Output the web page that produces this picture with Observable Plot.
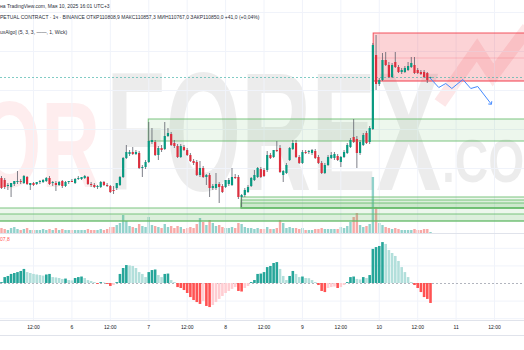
<!DOCTYPE html>
<html><head><meta charset="utf-8">
<script src="https://cdn.jsdelivr.net/npm/d3@7"></script>
<script src="https://cdn.jsdelivr.net/npm/@observablehq/plot@0.6"></script>
<style>
html,body{margin:0;padding:0;background:#fff;}
#chart{position:relative;width:524px;height:350px;overflow:hidden;background:#fff;font-family:"Liberation Sans",Arial,sans-serif;}
#chart > *{position:absolute;left:0;}
.hdr{font-size:5px;line-height:6px;color:#2a2e39;white-space:nowrap;left:1px;}
</style></head><body><div id="chart"></div>
<script>
// ---------- data ----------
const firstCandle = "2025-05-05T02:00:00Z"; // hourly candles
const open = [105800,105700,105400,105350,105500,105600,105650,105550,105850,105450,105550,105500,105600,105600,105650,105800,105550,105550,105450,105650,105400,105600,105650,105550,105750,105750,105800,105850,105500,105450,105350,105350,105600,105450,105400,105200,105300,105450,105850,106800,107000,107100,107000,107050,106300,106350,106600,107600,107600,106950,107300,107250,107900,108000,107550,107400,106850,107350,107200,106950,106650,106600,105950,106300,105850,105950,105300,105300,105500,105400,105350,105500,105450,105850,105850,104850,104950,105100,105400,105700,105850,106250,106200,106200,106950,106850,107200,107300,105950,106050,106700,107250,107550,106850,106550,107100,107100,107050,107150,106850,106550,106050,106450,106800,106800,106900,106600,106850,107050,107350,107850,107750,107050,107450,108050,107600,108250,111950,110500,110700,111700,111450,110850,111600,111350,111100,111100,111200,111350,111450,111200,111100,111100,111050,110808.9];
const high = [105900,105800,105550,105500,105600,106150,105750,105950,105900,105550,105600,105600,105700,105750,105850,105900,105650,105650,105650,105700,105650,105650,105750,105800,105900,105850,105950,105900,105600,105550,105450,105650,105650,105550,105450,105400,105500,105900,106850,107450,107200,107350,107200,107150,106450,106700,108600,108300,107700,107400,107450,108600,108300,108100,107700,107500,107500,107450,107300,107050,106750,106700,106650,106400,106000,106050,105500,106050,105600,105500,105550,105800,106300,106000,105950,105000,105300,105450,105850,106200,106350,106350,106300,107150,107050,107200,107650,107450,106200,106550,107350,107700,107700,106950,107200,107200,107200,107250,107250,106950,106650,106550,106950,107100,107100,107000,106900,107200,107550,107800,108750,107900,107700,108050,108150,108400,112550,112950,110800,112050,112100,111600,111550,112100,111450,111300,111400,111600,111850,111850,111300,111200,111200,111100,110857.3];
const low = [105250,105250,105200,104850,105400,105500,105500,105500,105450,105200,105400,105450,105500,105550,105600,105450,105400,105150,105400,105300,105350,105500,105600,105500,105700,105700,105750,105450,105350,105300,105250,105300,105400,105350,105050,105000,105200,105400,105800,106750,106900,106950,106950,106250,105850,106250,106550,107500,106900,106700,107100,107200,107850,107400,107300,106800,106800,107150,106900,106600,106450,105900,105850,105800,105450,104850,105200,105200,104550,105050,105300,105400,105400,105750,104750,104350,104850,105050,105350,105650,105800,105800,105850,106100,106750,106800,107100,106050,105600,106000,106650,107200,106800,106500,106500,107000,107000,106950,106750,106500,106000,106000,106400,106750,106700,106650,106350,106800,107000,107300,107550,106300,106950,107400,107500,107500,108200,110200,110400,110650,111400,110800,110800,111300,111050,111000,111050,111150,111300,111000,111000,110950,110800,110550,110767];
const close = [105300,105350,105450,105550,105650,105650,105600,105900,105500,105550,105450,105600,105650,105700,105800,105500,105600,105450,105600,105400,105600,105650,105600,105750,105800,105850,105900,105500,105450,105350,105400,105600,105450,105400,105100,105150,105550,105850,106800,107100,107100,107000,107100,106300,106350,106600,107650,107700,106950,107300,107200,107900,108050,107450,107400,106850,107400,107200,106950,106650,106550,105950,106300,105850,105950,105300,105400,105500,105350,105100,105700,105700,105850,105800,104850,104950,105200,105350,105800,105950,106300,105850,105900,106950,106800,107200,107150,106100,106150,106450,107300,107550,106850,106550,107100,107050,107150,107200,106800,106550,106050,106450,106850,106950,107000,106700,106850,107100,107450,107700,107600,107050,107600,107950,107550,108300,112450,110500,110700,111700,111450,110850,111450,111350,111100,111200,111300,111400,111550,111050,111050,111000,110850,110700,110850];
const volume = [100,80,60,100,120,80,60,80,100,60,60,60,60,80,60,80,60,100,60,80,60,60,60,60,60,60,60,80,60,60,60,80,60,80,120,
  120,160,200,360,240,140,120,100,180,140,120,320,160,140,120,100,180,120,140,100,140,120,80,100,120,100,180,300,220,160,260,200,140,160,
  120,100,100,120,100,200,180,120,100,100,80,100,80,80,120,80,80,100,260,200,100,120,100,100,80,100,60,60,60,80,80,100,80,80,80,
  80,80,120,100,140,220,320,400,160,120,140,180,1120,520,200,160,120,100,80,100,80,60,60,60,60,80,60,60,80,80,20];
const osc = [5,32,38,49,54,59,65,76,59,54,49,46,43,40,46,49,32,30,27,22,24,16,14,27,32,35,27,16,11,5,
  -5,5,3,-5,-16,-11,5,49,81,97,95,92,81,59,49,32,59,70,73,43,32,49,51,16,5,
  -22,-27,-38,-54,-76,-92,-103,-113,-97,-124,-130,-119,-103,-86,-70,-54,-43,-32,-22,-43,-46,-27,-16,
  5,16,49,51,59,86,92,108,113,76,38,16,38,65,49,32,35,27,26,16,5,
  -11,-43,-49,-27,-22,-19,-27,-22,-11,5,32,35,22,19,32,27,43,184,194,200,221,211,178,162,146,119,86,59,32,5,
  -11,-27,-49,-76,-86,-107.8];

const tickTimes = ["2025-05-05T12:00Z","2025-05-06T00:00Z","2025-05-06T12:00Z","2025-05-07T00:00Z","2025-05-07T12:00Z","2025-05-08T00:00Z","2025-05-08T12:00Z","2025-05-09T00:00Z","2025-05-09T12:00Z","2025-05-10T00:00Z","2025-05-10T12:00Z","2025-05-11T00:00Z","2025-05-11T12:00Z"].map(d => new Date(d));
const tickLabels = ["12:00","6","12:00","7","12:00","8","12:00","9","12:00","10","12:00","11","12:00"];
const priceGrid = [114100,112150,110200,108250,106300];
const oscGrid = [-190,-95,95,190];

const zoneStart  = ["2025-05-09T22:15Z","2025-05-09T22:15Z","2025-05-07T00:00Z","2025-05-05T00:00Z","2025-05-05T00:00Z","2025-05-08T05:00Z","2025-05-08T05:00Z","2025-05-08T05:00Z"];
const zoneTop    = [113050,111800,108750,104300,104000,104850,104700,104550];
const zoneBottom = [110650,110650,107650,103650,103650,104300,104300,104300];
const zoneKind   = ["supply","supplyLine","demand","demand","demand","demand","demand","demand"];
const zoneEnd = "2025-05-12T00:00Z";

const projTime  = ["2025-05-10T16:00Z","2025-05-10T18:35Z","2025-05-10T20:45Z","2025-05-10T22:40Z","2025-05-11T02:05Z","2025-05-11T04:35Z","2025-05-11T06:45Z","2025-05-11T10:50Z"];
const projPrice = [110800,110350,110550,110300,110750,110300,110400,109550];

const headerLines = [
  "на TradingView.com, Мая 10, 2025 16:01 UTC+3",
  "PETUAL CONTRACT · 1ч · BINANCE  ОТКР110808,9  МАКС110857,3  МИН110767,0  ЗАКР110850,0  +41,0 (+0,04%)",
  "uxAlgo] (5, 3, 3, ——, 1, Wick)"
];
const oscLabel = "07,8";

// ---------- tables ----------
const t0 = Date.parse(firstCandle);
const candles = close.map((c, i) => ({t: new Date(t0 + i * 3600e3), open: open[i], high: high[i], low: low[i], close: c, volume: volume[i], osc: osc[i]}));
const zones = zoneStart.map((s, i) => ({start: new Date(s), end: new Date(zoneEnd), top: zoneTop[i], bottom: zoneBottom[i], kind: zoneKind[i]}));
const proj = projTime.map((t, i) => ({t: new Date(t), p: projPrice[i]}));
const lastClose = close[close.length - 1];

const UP = "#089981", DOWN = "#dc2f3e";
const xOpt = {type: "utc", domain: [new Date("2025-05-05T01:41:36Z"), new Date("2025-05-11T21:21:36Z")], axis: null};
const common = {width: 524, marginLeft: 0, marginRight: 0, style: {background: "transparent", overflow: "visible", fontFamily: "Liberation Sans, Arial, sans-serif"}};
const chart = document.getElementById("chart");
function place(el, top) { el.style.position = "absolute"; el.style.left = "0px"; el.style.top = top + "px"; chart.appendChild(el); return el; }

// ---------- watermark (logo) ----------
const wm = d3.create("svg").attr("width", 524).attr("height", 233).style("overflow", "hidden");
wm.append("polyline").attr("points", "440,103 477,50 493,75 528,28").attr("fill", "none")
  .attr("stroke", "rgba(242,54,69,0.12)").attr("stroke-width", 13);
const wmText = (txt, x, y, size, sx, fill) => wm.append("text")
  .attr("transform", `translate(${x},${y}) scale(${sx},1)`)
  .attr("font-size", size).attr("font-weight", 700).attr("font-family", "Liberation Sans, Arial")
  .attr("fill", fill).text(txt);
wmText("OR", -22, 187, 123, 0.661, "rgba(242,54,69,0.09)");
wmText("FOREX", 106, 190, 169, 0.5755, "rgba(0,0,0,0.075)");
wmText(".COM", 442, 182, 62, 0.747, "rgba(0,0,0,0.075)");
place(wm.node(), 0);

// ---------- volume ----------
place(Plot.plot({...common, height: 233, marginTop: 0, marginBottom: 0, x: xOpt,
  y: {domain: [0, 4660], axis: null},
  marks: [
    Plot.ruleX(candles, {x: "t", y1: 0, y2: "volume", strokeWidth: 2.4,
      stroke: d => d.close >= d.open ? "rgba(38,166,154,0.5)" : "rgba(239,83,80,0.5)"})
  ]}), 0);

// ---------- main price pane ----------
place(Plot.plot({...common, height: 233, marginTop: 0, marginBottom: 0, x: xOpt,
  y: {domain: [103050, 114700], axis: null},
  marks: [
    Plot.ruleY(priceGrid, {stroke: "#f0f3fa"}),
    Plot.ruleX(tickTimes, {stroke: "#f0f3fa"}),
    Plot.rect(zones.filter(d => d.kind === "demand"), {x1: "start", x2: "end", y1: "bottom", y2: "top", fill: "#4caf50", fillOpacity: 0.1, stroke: "#66bb6a", strokeOpacity: 0.85, clip: true}),
    Plot.rect(zones.filter(d => d.kind === "supply"), {x1: "start", x2: "end", y1: "bottom", y2: "top", fill: "#f23645", fillOpacity: 0.22, stroke: "#f23645", strokeOpacity: 0.85, clip: true}),
    Plot.rect(zones.filter(d => d.kind === "supplyLine"), {x1: "start", x2: "end", y1: "bottom", y2: "top", fill: "none", stroke: "#f23645", strokeOpacity: 0.2, clip: true}),
    Plot.ruleY([lastClose], {stroke: "#4db6ac", strokeOpacity: 0.7, strokeDasharray: "2,2"}),
    Plot.ruleX(candles, {x: "t", y1: "low", y2: "high", stroke: "#5d606b", strokeWidth: 0.8}),
    Plot.ruleX(candles, {x: "t", y1: "open", y2: "close", strokeWidth: 2.2, stroke: d => d.close >= d.open ? UP : DOWN}),
    Plot.line(proj, {x: "t", y: "p", stroke: "#448aff", strokeWidth: 1, markerEnd: "arrow"})
  ]}), 0);

// ---------- oscillator pane + time axis ----------
const oscDomain = [-199.8, 270];
const oscColor = osc.map((v, i) => { const p = i ? osc[i - 1] : 0; return v >= 0 ? (v >= p ? "#26a69a" : "#b2dfdb") : (v <= p ? "#ff5252" : "#ffcdd2"); });
const oscRows = candles.map((d, i) => ({t: d.t, v: d.osc, c: oscColor[i]}));
place(Plot.plot({...common, height: 117, marginTop: 0, marginBottom: 30, x: xOpt,
  y: {domain: oscDomain, axis: null},
  marks: [
    Plot.ruleX(tickTimes, {stroke: "#f0f3fa"}),
    Plot.ruleY(oscGrid, {stroke: "#f0f3fa"}),
    Plot.ruleY(oscDomain, {stroke: "#e0e3eb"}),
    Plot.ruleY([0], {stroke: "#b2b5be", strokeDasharray: "2,2"}),
    Plot.ruleX(oscRows, {x: "t", y1: 0, y2: "v", stroke: "c", strokeWidth: 2.6}),
    Plot.text(tickTimes, {x: d => d, text: tickLabels, frameAnchor: "bottom", dy: 8, fontSize: 5, fill: "#131722"})
  ]}), 233);

// bottom border of time scale
const bl = document.createElement("div");
bl.style.cssText = "width:524px;height:1px;background:#e0e3eb;";
place(bl, 335);

// ---------- texts ----------
[3, 14, 29].forEach((top, i) => {
  const d = document.createElement("div"); d.className = "hdr"; d.textContent = headerLines[i]; place(d, top);
});
const ol = document.createElement("div"); ol.className = "hdr"; ol.style.color = "#ff5252"; ol.textContent = oscLabel; place(ol, 236);
</script></body></html>
